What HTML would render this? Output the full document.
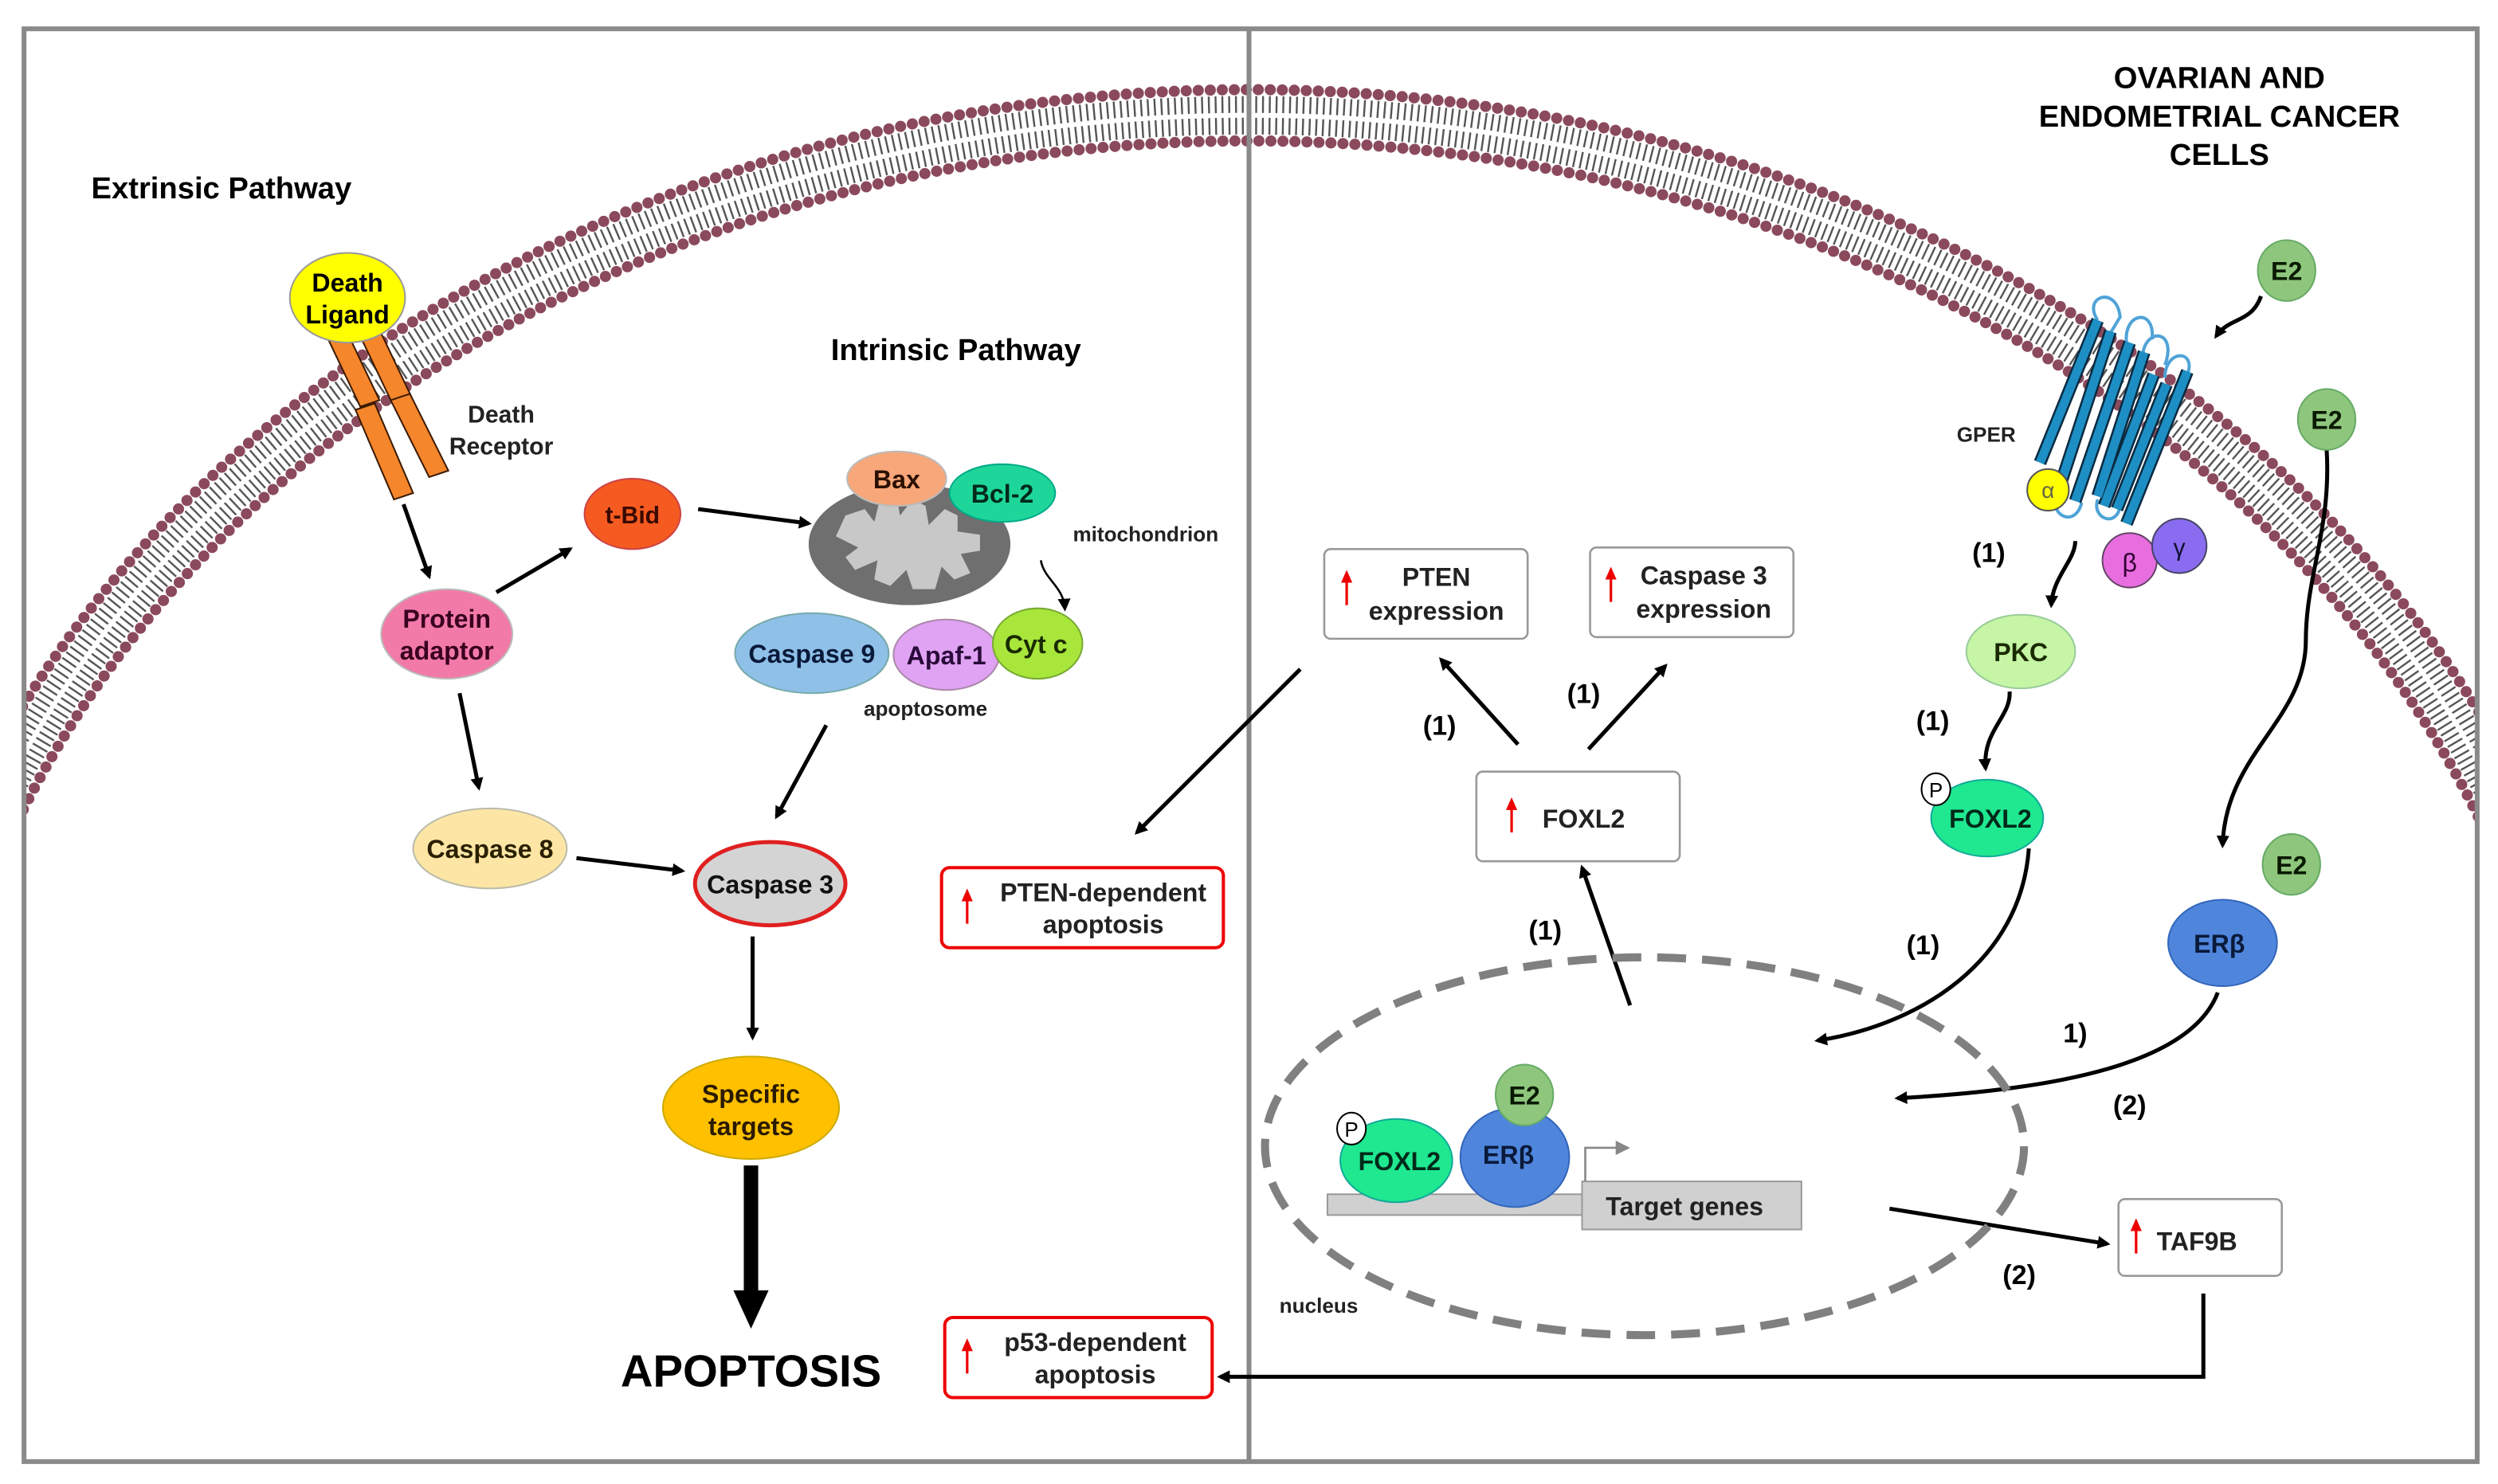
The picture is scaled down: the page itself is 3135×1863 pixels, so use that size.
<!DOCTYPE html>
<html><head><meta charset="utf-8"><style>
html,body{margin:0;padding:0;background:#fff;overflow:hidden;width:3135px;height:1863px;}
svg{display:block;}
text{font-family:"Liberation Sans",Arial,sans-serif;}
.b{font-weight:bold;}
</style></head><body>
<svg width="3135" height="1863" viewBox="0 0 1560 927" preserveAspectRatio="none" xmlns="http://www.w3.org/2000/svg">
<defs>
<marker id="ah" markerWidth="8" markerHeight="8" refX="6" refY="4" orient="auto" markerUnits="userSpaceOnUse" viewBox="0 0 8 8"><path d="M0,0 L8,4 L0,8 Z" fill="#000"/></marker>
<marker id="ahg" markerWidth="9" markerHeight="9" refX="3" refY="4.5" orient="auto" markerUnits="userSpaceOnUse" viewBox="0 0 9 9"><path d="M0,0 L9,4.5 L0,9 Z" fill="#888"/></marker>
<clipPath id="fr"><rect x="16" y="19" width="1530" height="893"/></clipPath>
<g id="up"><line x1="0" y1="10" x2="0" y2="-8" stroke="#e00" stroke-width="1.6"/><path d="M-3.5,-4 L0,-12 L3.5,-4 Z" fill="#e00"/></g>
</defs>
<rect width="1560" height="927" fill="#fff"/>
<!-- membrane -->
<g clip-path="url(#fr)">
<ellipse cx="780" cy="760" rx="843" ry="688" fill="none" stroke="#fff" stroke-width="36"/>
<ellipse cx="780" cy="760" rx="843" ry="688" fill="none" stroke="#555" stroke-width="24" stroke-dasharray="1.2 3"/>
<ellipse cx="780" cy="760" rx="843" ry="688" fill="none" stroke="#fff" stroke-width="3"/>
<ellipse cx="780" cy="760" rx="859" ry="704" fill="none" stroke="#8b4a5c" stroke-width="7" stroke-dasharray="0 7.5" stroke-linecap="round"/>
<ellipse cx="780" cy="760" rx="827" ry="672" fill="none" stroke="#8b4a5c" stroke-width="7" stroke-dasharray="0 7.5" stroke-linecap="round"/>
</g>
<!-- frame -->
<rect x="15" y="18" width="1532" height="895" fill="none" stroke="#8a8a8a" stroke-width="3"/>
<line x1="780" y1="18" x2="780" y2="913" stroke="#8a8a8a" stroke-width="3"/>

<!-- LEFT -->
<text x="57" y="124" font-size="19" class="b">Extrinsic Pathway</text>
<text x="597" y="225" font-size="19" class="b" text-anchor="middle">Intrinsic Pathway</text>
<g stroke="#3a1a00" stroke-width="1">
<polygon points="205,212 217,208 237,250 225,254" fill="#f5862c"/>
<polygon points="225,210 237,206 257,248 245,252" fill="#f5862c"/>
<polygon points="222,256 234,252 258,308 246,312" fill="#f5862c"/>
<polygon points="244,250 256,246 280,294 268,298" fill="#f5862c"/>
</g>
<ellipse cx="217" cy="186" rx="36" ry="28" fill="#ffff00" stroke="#999" stroke-width="1"/>
<text x="217" y="182" font-size="16" class="b" text-anchor="middle">Death</text>
<text x="217" y="202" font-size="16" class="b" text-anchor="middle">Ligand</text>
<text x="313" y="264" font-size="15" class="b" text-anchor="middle" fill="#222">Death</text>
<text x="313" y="284" font-size="15" class="b" text-anchor="middle" fill="#222">Receptor</text>

<g stroke="#000" stroke-width="2.5" fill="none" marker-end="url(#ah)">
<line x1="252" y1="315" x2="268" y2="360"/>
<line x1="310" y1="370" x2="356" y2="343"/>
<line x1="436" y1="318" x2="505" y2="327"/>
<line x1="287" y1="433" x2="299" y2="492"/>
<line x1="516" y1="453" x2="485" y2="510"/>
<line x1="360" y1="536" x2="426" y2="544"/>
<line x1="470" y1="585" x2="470" y2="648"/>
<line x1="812" y1="418" x2="710" y2="520"/>
</g>
<line x1="469" y1="728" x2="469" y2="810" stroke="#000" stroke-width="9"/>
<path d="M458,806 L480,806 L469,830 Z" fill="#000"/>

<ellipse cx="279" cy="396" rx="41" ry="28" fill="#f27aa8" stroke="#bbb"/>
<text x="279" y="392" font-size="16" class="b" text-anchor="middle" fill="#3a0020">Protein</text>
<text x="279" y="412" font-size="16" class="b" text-anchor="middle" fill="#3a0020">adaptor</text>
<ellipse cx="395" cy="321" rx="30" ry="22" fill="#f55a20" stroke="#c44"/>
<text x="395" y="327" font-size="15" class="b" text-anchor="middle" fill="#3a0a00">t-Bid</text>

<ellipse cx="568" cy="340" rx="63" ry="38" fill="#6f6f6f"/>
<path d="M522,335 L528,322 L540,318 L546,326 L550,310 L560,310 L562,322 L570,312 L578,316 L580,328 L590,318 L598,322 L598,332 L612,334 L612,344 L600,346 L606,358 L596,362 L588,354 L584,368 L570,368 L566,356 L556,366 L546,362 L548,350 L534,356 L528,348 L536,342 Z" fill="#c8c8c8"/>
<ellipse cx="560" cy="299" rx="31" ry="17" fill="#f7a77a" stroke="#bbb"/>
<text x="560" y="305" font-size="16" class="b" text-anchor="middle" fill="#2a1000">Bax</text>
<ellipse cx="626" cy="308" rx="33" ry="18" fill="#1fd69a" stroke="#0a8"/>
<text x="626" y="314" font-size="16" class="b" text-anchor="middle" fill="#002a1a">Bcl-2</text>
<text x="670" y="338" font-size="13" class="b" fill="#222">mitochondrion</text>
<path d="M650,350 C652,362 664,366 665,380" fill="none" stroke="#000" stroke-width="1.3" marker-end="url(#ah)"/>
<ellipse cx="507" cy="408" rx="48" ry="25" fill="#8fc0e8" stroke="#7aa"/>
<text x="507" y="414" font-size="16" class="b" text-anchor="middle" fill="#0a1a3a">Caspase 9</text>
<ellipse cx="591" cy="409" rx="33" ry="22" fill="#e0a2f3" stroke="#a8a"/>
<text x="591" y="415" font-size="16" class="b" text-anchor="middle" fill="#2a0a3a">Apaf-1</text>
<ellipse cx="648" cy="402" rx="28" ry="22" fill="#a8e63c" stroke="#7a3"/>
<text x="647" y="408" font-size="16" class="b" text-anchor="middle" fill="#1a2a00">Cyt c</text>
<text x="578" y="447" font-size="13" class="b" text-anchor="middle" fill="#222">apoptosome</text>

<ellipse cx="306" cy="530" rx="48" ry="25" fill="#fde6a5" stroke="#bba"/>
<text x="306" y="536" font-size="16" class="b" text-anchor="middle" fill="#2a2000">Caspase 8</text>
<ellipse cx="481" cy="552" rx="47" ry="26" fill="#d4d4d4" stroke="#e02020" stroke-width="2.5"/>
<text x="481" y="558" font-size="16" class="b" text-anchor="middle" fill="#111">Caspase 3</text>
<ellipse cx="469" cy="692" rx="55" ry="32" fill="#ffc000" stroke="#ca0"/>
<text x="469" y="689" font-size="16" class="b" text-anchor="middle" fill="#2a1a00">Specific</text>
<text x="469" y="709" font-size="16" class="b" text-anchor="middle" fill="#2a1a00">targets</text>
<text x="469" y="866" font-size="28" class="b" text-anchor="middle">APOPTOSIS</text>

<rect x="588" y="542" width="176" height="50" rx="5" fill="#fff" stroke="#e00" stroke-width="2"/>
<use href="#up" x="604" y="567"/>
<text x="689" y="563" font-size="16" class="b" text-anchor="middle" fill="#222">PTEN-dependent</text>
<text x="689" y="583" font-size="16" class="b" text-anchor="middle" fill="#222">apoptosis</text>
<rect x="590" y="823" width="167" height="50" rx="5" fill="#fff" stroke="#e00" stroke-width="2"/>
<use href="#up" x="604" y="848"/>
<text x="684" y="844" font-size="16" class="b" text-anchor="middle" fill="#222">p53-dependent</text>
<text x="684" y="864" font-size="16" class="b" text-anchor="middle" fill="#222">apoptosis</text>

<!-- RIGHT -->
<text x="1386" y="55" font-size="19" class="b" text-anchor="middle">OVARIAN AND</text>
<text x="1386" y="79" font-size="19" class="b" text-anchor="middle">ENDOMETRIAL CANCER</text>
<text x="1386" y="103" font-size="19" class="b" text-anchor="middle">CELLS</text>

<rect x="827" y="343" width="127" height="56" rx="4" fill="#fff" stroke="#999" stroke-width="1.3"/>
<use href="#up" x="841" y="368"/>
<text x="897" y="366" font-size="16" class="b" text-anchor="middle" fill="#222">PTEN</text>
<text x="897" y="387" font-size="16" class="b" text-anchor="middle" fill="#222">expression</text>
<rect x="993" y="342" width="127" height="56" rx="4" fill="#fff" stroke="#999" stroke-width="1.3"/>
<use href="#up" x="1006" y="366"/>
<text x="1064" y="365" font-size="16" class="b" text-anchor="middle" fill="#222">Caspase 3</text>
<text x="1064" y="386" font-size="16" class="b" text-anchor="middle" fill="#222">expression</text>
<rect x="922" y="482" width="127" height="56" rx="4" fill="#fff" stroke="#999" stroke-width="1.3"/>
<use href="#up" x="944" y="510"/>
<text x="989" y="517" font-size="16" class="b" text-anchor="middle" fill="#222">FOXL2</text>
<rect x="1323" y="749" width="102" height="48" rx="4" fill="#fff" stroke="#999" stroke-width="1.3"/>
<use href="#up" x="1334" y="773"/>
<text x="1372" y="781" font-size="16" class="b" text-anchor="middle" fill="#222">TAF9B</text>

<g stroke="#000" stroke-width="2.5" fill="none" marker-end="url(#ah)">
<line x1="948" y1="465" x2="900" y2="412"/>
<line x1="992" y1="468" x2="1040" y2="416"/>
<line x1="1018" y1="628" x2="988" y2="542"/>
<line x1="1180" y1="755" x2="1316" y2="777"/>
<polyline points="1376,808 1376,860 762,860"/>
<path d="M1296,338 C1296,350 1282,360 1281,378"/>
<path d="M1255,432 C1256,448 1238,456 1240,480"/>
<path d="M1267,530 C1262,600 1200,640 1135,650"/>
<path d="M1385,620 C1370,660 1300,680 1185,686"/>
<path d="M1412,185 C1406,202 1392,198 1384,210"/>
<path d="M1453,281 C1456,330 1440,360 1440,400 C1440,450 1390,470 1388,528"/>
</g>
<g font-size="17" class="b" text-anchor="middle">
<text x="899" y="459">(1)</text><text x="989" y="439">(1)</text><text x="965" y="587">(1)</text>
<text x="1242" y="351">(1)</text><text x="1207" y="456">(1)</text><text x="1201" y="596">(1)</text>
<text x="1296" y="651">1)</text><text x="1330" y="696">(2)</text><text x="1261" y="802">(2)</text>
</g>

<ellipse cx="1027" cy="716" rx="237" ry="118" fill="none" stroke="#808080" stroke-width="5" stroke-dasharray="18 10"/>
<text x="799" y="820" font-size="13" class="b" fill="#222">nucleus</text>
<rect x="829" y="746" width="171" height="13" fill="#d0d0d0" stroke="#999"/>
<rect x="988" y="738" width="137" height="30" fill="#d0d0d0" stroke="#999"/>
<text x="1052" y="759" font-size="16" class="b" text-anchor="middle" fill="#222">Target genes</text>
<polyline points="990,738 990,717 1012,717" fill="none" stroke="#888" stroke-width="1.3" marker-end="url(#ahg)"/>
<ellipse cx="872" cy="725" rx="35" ry="26" fill="#1fe890" stroke="#1a9"/>
<text x="874" y="731" font-size="16" class="b" text-anchor="middle" fill="#002a1a">FOXL2</text>
<ellipse cx="844" cy="705" rx="9" ry="10" fill="#fff" stroke="#000"/>
<text x="844" y="710" font-size="13" text-anchor="middle">P</text>
<ellipse cx="946" cy="723" rx="34" ry="31" fill="#4f86dc" stroke="#36b"/>
<text x="942" y="727" font-size="16" class="b" text-anchor="middle" fill="#0a1a3a">ERβ</text>
<ellipse cx="952" cy="684" rx="18" ry="19" fill="#8fc67d" stroke="#6a6"/>
<text x="952" y="690" font-size="16" class="b" text-anchor="middle" fill="#0a1a00">E2</text>

<!-- GPER -->
<text x="1222" y="276" font-size="13" class="b" fill="#222">GPER</text>
<g fill="none" stroke="#4fa3d8" stroke-width="2">
<path d="M1310,200 C1300,185 1322,178 1324,198 L1318,208"/>
<path d="M1328,214 C1326,195 1346,192 1344,212"/>
<path d="M1338,222 C1340,204 1360,206 1352,228"/>
<path d="M1352,236 C1352,218 1372,218 1366,234"/>
<path d="M1284,310 C1280,322 1296,330 1300,314"/>
<path d="M1310,312 C1306,324 1322,330 1324,316"/>
</g>
<g stroke="#0a2a40" stroke-width="8">
<line x1="1274" y1="289" x2="1310" y2="200"/><line x1="1285" y1="308" x2="1318" y2="207"/>
<line x1="1296" y1="313" x2="1330" y2="214"/><line x1="1310" y1="310" x2="1339" y2="220"/>
<line x1="1314" y1="316" x2="1345" y2="234"/><line x1="1322" y1="318" x2="1353" y2="240"/>
<line x1="1328" y1="327" x2="1366" y2="232"/>
</g>
<g stroke="#1e8fc4" stroke-width="5.5">
<line x1="1274" y1="289" x2="1310" y2="200"/><line x1="1285" y1="308" x2="1318" y2="207"/>
<line x1="1296" y1="313" x2="1330" y2="214"/><line x1="1310" y1="310" x2="1339" y2="220"/>
<line x1="1314" y1="316" x2="1345" y2="234"/><line x1="1322" y1="318" x2="1353" y2="240"/>
<line x1="1328" y1="327" x2="1366" y2="232"/>
</g>
<circle cx="1279" cy="306" r="13" fill="#ffff00" stroke="#555"/>
<text x="1279" y="311" font-size="14" text-anchor="middle" fill="#664">α</text>
<circle cx="1330" cy="350" r="17" fill="#e86ee0" stroke="#646"/>
<text x="1330" y="357" font-size="16" text-anchor="middle" fill="#303">β</text>
<circle cx="1361" cy="341" r="17" fill="#8a6cf0" stroke="#446"/>
<text x="1361" y="347" font-size="15" text-anchor="middle" fill="#113">γ</text>

<ellipse cx="1428" cy="169" rx="18" ry="19" fill="#8fc67d" stroke="#6a6"/>
<text x="1428" y="175" font-size="16" class="b" text-anchor="middle" fill="#0a1a00">E2</text>
<ellipse cx="1453" cy="262" rx="18" ry="19" fill="#8fc67d" stroke="#6a6"/>
<text x="1453" y="268" font-size="16" class="b" text-anchor="middle" fill="#0a1a00">E2</text>
<ellipse cx="1431" cy="540" rx="18" ry="19" fill="#8fc67d" stroke="#6a6"/>
<text x="1431" y="546" font-size="16" class="b" text-anchor="middle" fill="#0a1a00">E2</text>

<ellipse cx="1262" cy="407" rx="34" ry="23" fill="#c5f5a5" stroke="#9c9"/>
<text x="1262" y="413" font-size="16" class="b" text-anchor="middle" fill="#1a2a00">PKC</text>
<ellipse cx="1241" cy="511" rx="35" ry="24" fill="#1fe890" stroke="#1a9"/>
<text x="1243" y="517" font-size="16" class="b" text-anchor="middle" fill="#002a1a">FOXL2</text>
<ellipse cx="1209" cy="493" rx="9" ry="10" fill="#fff" stroke="#000"/>
<text x="1209" y="498" font-size="13" text-anchor="middle">P</text>
<ellipse cx="1388" cy="589" rx="34" ry="27" fill="#4f86dc" stroke="#36b"/>
<text x="1386" y="595" font-size="16" class="b" text-anchor="middle" fill="#0a1a3a">ERβ</text>
</svg>
</body></html>
